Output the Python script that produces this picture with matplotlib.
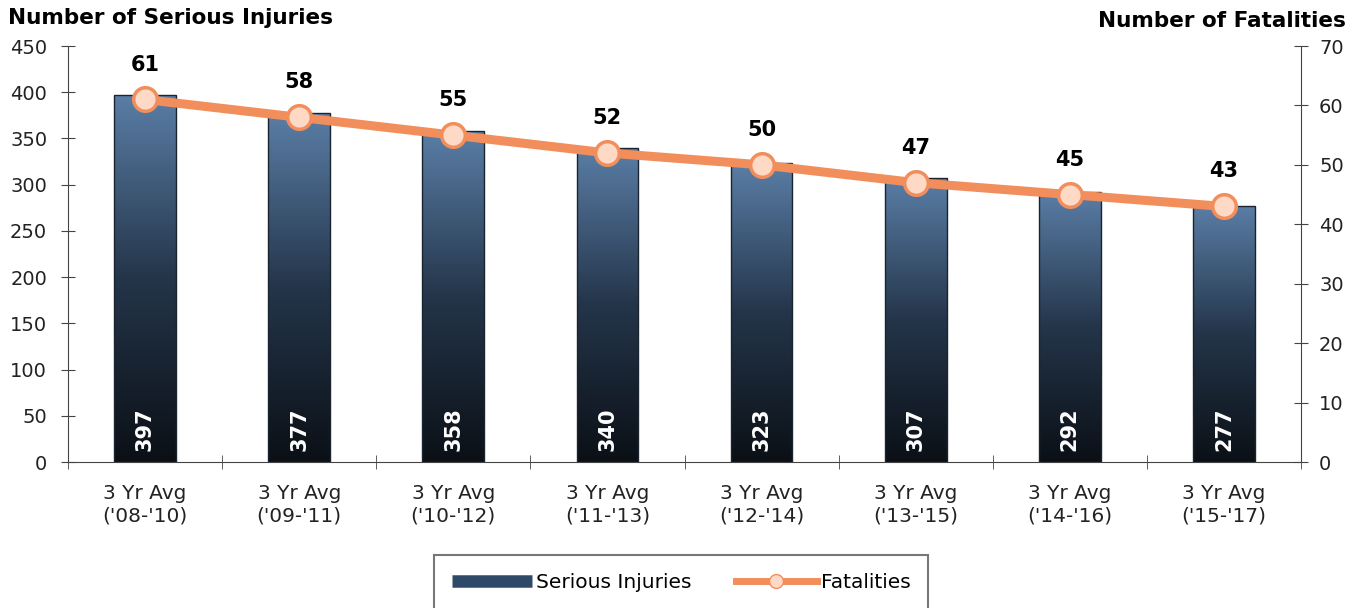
import matplotlib.pyplot as plt
import numpy as np
from matplotlib.lines import Line2D
from matplotlib.patches import Rectangle
from matplotlib.colors import LinearSegmentedColormap

periods = ["'08-'10", "'09-'11", "'10-'12", "'11-'13", "'12-'14", "'13-'15", "'14-'16", "'15-'17"]
injuries = [397, 377, 358, 340, 323, 307, 292, 277]
fatalities = [61, 58, 55, 52, 50, 47, 45, 43]

labels = ["3 Yr Avg\n(%s)" % p for p in periods]
plt.rcParams['font.family'] = ['DejaVu Sans']

fig = plt.figure(figsize=(13.59, 6.08), dpi=100)
ax = fig.add_axes([68 / 1359, 1 - 462 / 608, (1301 - 68) / 1359, (462 - 46) / 608])
ax2 = ax.twinx()

x = np.arange(len(periods))
bw = 0.4
bars = ax.bar(x, injuries, width=bw, color='none', edgecolor='none', zorder=2)

# vertical gradient for each bar
grad = np.linspace(0, 1, 256).reshape(-1, 1)
cmap = LinearSegmentedColormap.from_list('bar', ['#0b1016', '#24354a', '#5a7ea6'])
for b in bars:
    x0, w, h = b.get_x(), b.get_width(), b.get_height()
    im = ax.imshow(grad, cmap=cmap, aspect='auto', origin='lower',
                   extent=[x0, x0 + w, 0, h], zorder=2)
    im.set_clip_path(Rectangle((x0, 0), w, h, transform=ax.transData))
    ax.add_patch(Rectangle((x0, 0), w, h, fill=False, edgecolor='#1a2430', lw=1, zorder=3))

for xi, v in zip(x, injuries):
    ax.text(xi, 12, str(v), rotation=90, color='white', fontsize=15, fontweight='bold',
            ha='center', va='bottom', zorder=4)

ax.set_xlim(-0.5, len(periods) - 0.5)
ax.set_ylim(0, 450)
ax.set_yticks(np.arange(0, 451, 50))
ax.set_xticks(x)
ax.set_xticklabels(labels, fontsize=14.5, color='#222222')
ax.set_xticks(np.arange(-0.5, len(periods), 1), minor=True)
ax.tick_params(axis='x', which='major', length=0, pad=16)
ax.tick_params(axis='x', which='minor', direction='inout', length=10, color='#444444')
ax.tick_params(axis='y', direction='inout', length=10, labelsize=14, color='#444444',
               labelcolor='#222222', pad=10)

ax2.plot(x, fatalities, color='#f28e5c', lw=6.5, marker='o', markersize=17,
         markerfacecolor='#fdd9c6', markeredgecolor='#f28e5c', markeredgewidth=2.5, zorder=5)
for xi, v in zip(x, fatalities):
    ax2.text(xi, v + 4.2, str(v), ha='center', va='bottom', fontsize=15, fontweight='bold')
ax2.set_ylim(0, 70)
ax2.set_yticks(np.arange(0, 71, 10))
ax2.tick_params(axis='y', direction='inout', length=10, labelsize=14, color='#444444',
                labelcolor='#222222', pad=8)

for a in (ax, ax2):
    a.spines['top'].set_visible(False)
    for s in ('left', 'right', 'bottom'):
        a.spines[s].set_color('#444444')
ax.spines['right'].set_visible(False)
ax2.spines['left'].set_visible(False)
ax2.spines['bottom'].set_visible(False)

fig.text(8 / 1359, 1 - 18 / 608, 'Number of Serious Injuries', fontsize=15.5, fontweight='bold',
         ha='left', va='center')
fig.text(1346 / 1359, 1 - 21 / 608, 'Number of Fatalities', fontsize=15.5, fontweight='bold',
         ha='right', va='center')

handles = [Line2D([], [], color='#2f4a68', lw=9, solid_capstyle='butt'),
           Line2D([], [], color='#f28e5c', lw=5, marker='o', markersize=10,
                  markerfacecolor='#fdd9c6', markeredgecolor='#f28e5c')]
leg = fig.legend(handles, ['Serious Injuries', 'Fatalities'], loc='upper center',
                 bbox_to_anchor=(681 / 1359, 1 - 555 / 608), ncol=2, fontsize=14.5,
                 frameon=True, fancybox=False, edgecolor='#555555', handlelength=4,
                 handletextpad=0.2, columnspacing=2.2, borderpad=0.9, borderaxespad=0)
leg.get_frame().set_linewidth(1.5)

fig.savefig('out.png', dpi=100)
